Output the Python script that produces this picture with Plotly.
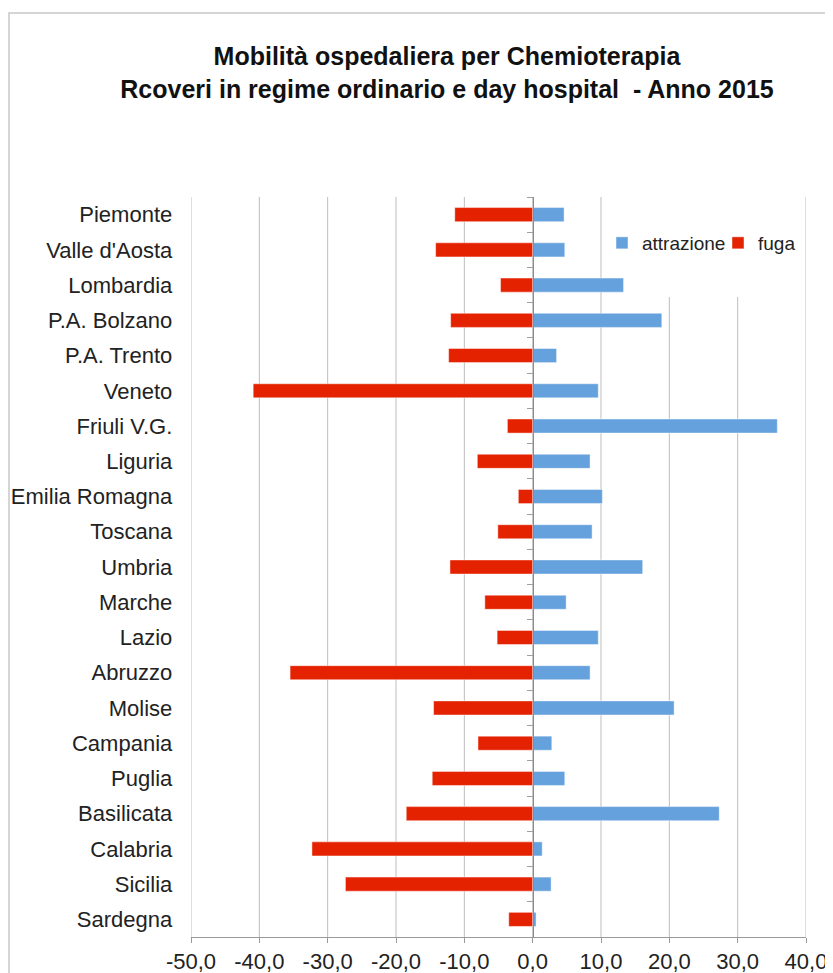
import plotly.graph_objects as go

# Data
regions = ["Piemonte", "Valle d'Aosta", "Lombardia", "P.A. Bolzano", "P.A. Trento",
           "Veneto", "Friuli V.G.", "Liguria", "Emilia Romagna", "Toscana", "Umbria",
           "Marche", "Lazio", "Abruzzo", "Molise", "Campania", "Puglia", "Basilicata",
           "Calabria", "Sicilia", "Sardegna"]
attrazione = [4.6, 4.7, 13.3, 18.9, 3.5, 9.6, 35.8, 8.4, 10.2, 8.7, 16.1,
              4.9, 9.6, 8.4, 20.7, 2.8, 4.7, 27.3, 1.4, 2.7, 0.5]
fuga = [-11.4, -14.2, -4.7, -12.0, -12.3, -40.9, -3.7, -8.1, -2.1, -5.1, -12.1,
        -7.0, -5.2, -35.5, -14.5, -8.0, -14.7, -18.5, -32.3, -27.4, -3.5]
x_ticks = [-50, -40, -30, -20, -10, 0, 10, 20, 30, 40]
x_tick_labels = ["-50,0", "-40,0", "-30,0", "-20,0", "-10,0", "0,0", "10,0", "20,0", "30,0", "40,0"]

FONT = "Liberation Sans"
BLUE = "#65A1DC"
RED = "#E52200"
GRID = "#BDBDBD"

fig = go.Figure()

fig.add_trace(go.Bar(
    y=regions, x=attrazione, name="attrazione", orientation="h",
    width=0.4, marker=dict(color=BLUE, line=dict(color="rgba(255,255,255,0.45)", width=1))
))
fig.add_trace(go.Bar(
    y=regions, x=fuga, name="fuga", orientation="h",
    width=0.4, marker=dict(color=RED, line=dict(color="rgba(255,255,255,0.45)", width=1))
))

# The page body has an 8px margin, so the figure is drawn 8px in from the window corner
OFF = 8
W, H = 833 - OFF, 973 - OFF
# Plot area in window pixels (from reference)
L, R, T, B = 191, 806, 197, 937
pw, ph = R - L, B - T

def px_x(px):
    return (px - L) / pw

def px_y(py):
    return (B - py) / ph

# Vertical gridlines; the legend area hides the 20 and 30 lines near the top
shapes = []
for v in x_ticks:
    top = px_y(297) if v in (20, 30) else 1
    shapes.append(dict(type="line", xref="x", yref="paper", layer="below",
                       x0=v, x1=v, y0=0, y1=top, line=dict(color=GRID, width=1)))
# chart area frame
shapes.append(dict(type="rect", xref="paper", yref="paper", layer="below",
                   x0=px_x(OFF + 1), x1=px_x(860), y0=px_y(1000), y1=px_y(13),
                   fillcolor="rgba(0,0,0,0)", line=dict(color="#C8C8C8", width=1.5)))

fig.update_layout(
    width=W, height=H,
    margin=dict(l=L - OFF, r=W - (R - OFF), t=T - OFF, b=H - (B - OFF), autoexpand=False),
    paper_bgcolor="white", plot_bgcolor="rgba(0,0,0,0)",
    barmode="overlay",
    separators=",.",
    font=dict(family=FONT, color="#222222"),
    title=dict(
        text="<b>Mobilità ospedaliera per Chemioterapia<br>Rcoveri in regime ordinario e day hospital  - Anno 2015</b>",
        font=dict(family=FONT, size=25, color="#111111"),
        x=(447 - OFF) / W, xref="container", xanchor="center",
        y=1 - 57 / H, yref="container", yanchor="top",
    ),
    legend=dict(
        orientation="h", x=px_x(602), y=px_y(243), xanchor="left", yanchor="middle",
        font=dict(family=FONT, size=19, color="#222222"),
        bgcolor="rgba(0,0,0,0)", entrywidth=71, entrywidthmode="pixels",
        traceorder="normal",
    ),
    xaxis=dict(
        range=[-50, 40], tickmode="array", tickvals=x_ticks, ticktext=x_tick_labels,
        showgrid=False, zeroline=False,
        showline=True, linecolor="#9A9A9A", linewidth=1,
        ticks="outside", ticklen=5, tickcolor="#9A9A9A",
        tickfont=dict(family=FONT, size=22, color="#222222"),
        fixedrange=True,
    ),
    yaxis=dict(
        autorange="reversed", anchor="free", position=50 / 90,
        showgrid=False, zeroline=False,
        showline=True, linecolor="#8C8C8C", linewidth=1,
        ticks="outside", ticklen=6, tickcolor="#A0A0A0", tickson="boundaries",
        ticklabelstandoff=356,
        tickfont=dict(family=FONT, size=22, color="#222222"),
        fixedrange=True,
    ),
    shapes=shapes,
)

fig.write_html("out.html")
